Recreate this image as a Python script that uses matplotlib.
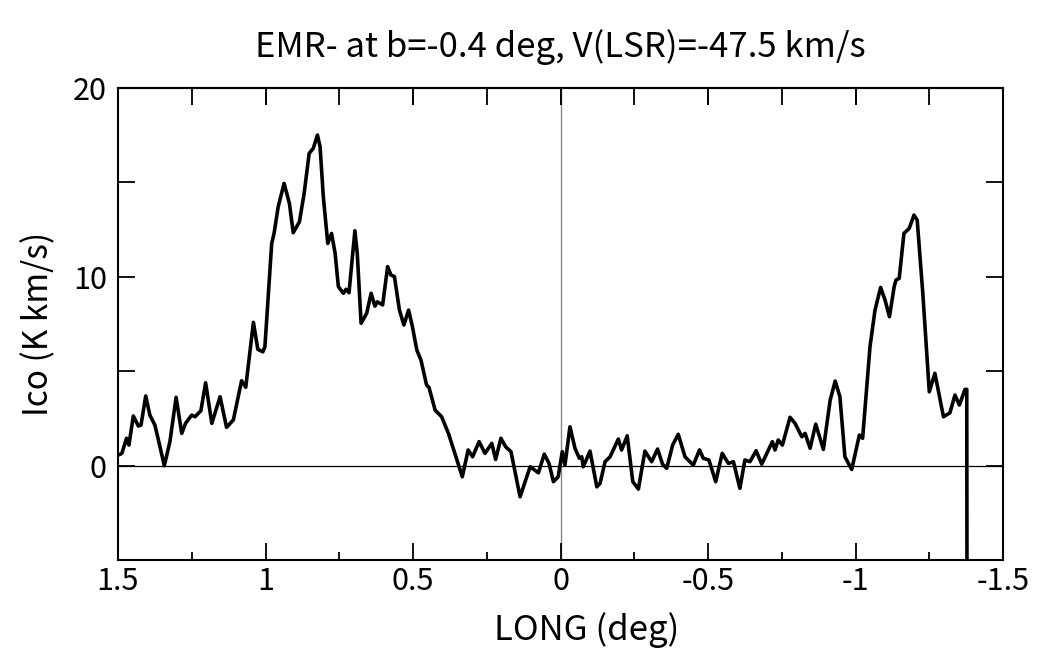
import matplotlib
matplotlib.use("Agg")
import matplotlib.pyplot as plt
from matplotlib.ticker import MultipleLocator, FuncFormatter

plt.rcParams['font.family'] = ['Noto Sans CJK JP', 'DejaVu Sans']
plt.rcParams['axes.unicode_minus'] = False

# galactic longitude (deg) and integrated intensity Ico (K km/s)
long_deg = [1.499, 1.487, 1.471, 1.463, 1.448, 1.431, 1.422, 1.406, 1.392, 1.375,
            1.363, 1.343, 1.324, 1.303, 1.284, 1.271, 1.250, 1.239, 1.219, 1.203,
            1.182, 1.154, 1.132, 1.109, 1.081, 1.067, 1.041, 1.026, 1.009, 1.002,
            0.979, 0.971, 0.957, 0.937, 0.919, 0.906, 0.885, 0.869, 0.852, 0.838,
            0.824, 0.815, 0.804, 0.789, 0.776, 0.764, 0.753, 0.736, 0.727, 0.717,
            0.697, 0.689, 0.676, 0.657, 0.642, 0.629, 0.621, 0.603, 0.586, 0.575,
            0.563, 0.546, 0.531, 0.515, 0.502, 0.487, 0.473, 0.454, 0.446, 0.425,
            0.403, 0.380, 0.360, 0.333, 0.313, 0.298, 0.276, 0.256, 0.233, 0.220,
            0.202, 0.186, 0.168, 0.137, 0.103, 0.075, 0.055, 0.039, 0.024, 0.008,
            -0.006, -0.015, -0.032, -0.049, -0.064, -0.072, -0.077, -0.100, -0.123, -0.134,
            -0.151, -0.168, -0.196, -0.207, -0.226, -0.245, -0.264, -0.286, -0.309, -0.329,
            -0.346, -0.360, -0.380, -0.399, -0.422, -0.450, -0.471, -0.484, -0.503, -0.526,
            -0.548, -0.569, -0.586, -0.608, -0.625, -0.642, -0.663, -0.682, -0.718, -0.727,
            -0.738, -0.752, -0.778, -0.795, -0.818, -0.829, -0.846, -0.865, -0.891, -0.914,
            -0.931, -0.947, -0.964, -0.987, -1.013, -1.024, -1.049, -1.066, -1.085, -1.100,
            -1.115, -1.131, -1.137, -1.148, -1.164, -1.182, -1.198, -1.209, -1.228, -1.250,
            -1.269, -1.298, -1.320, -1.337, -1.352, -1.371, -1.377, -1.378]
ico = [0.56, 0.65, 1.45, 1.09, 2.63, 2.10, 2.15, 3.69, 2.68, 2.15,
       1.36, 0.00, 1.27, 3.62, 1.71, 2.24, 2.68, 2.59, 2.91, 4.39,
       2.24, 3.65, 2.03, 2.42, 4.50, 4.15, 7.59, 6.16, 6.03, 6.30,
       11.77, 12.30, 13.71, 14.95, 13.89, 12.34, 12.92, 14.42, 16.54, 16.81,
       17.51, 16.89, 14.24, 11.77, 12.30, 11.24, 9.48, 9.13, 9.34, 9.16,
       12.44, 11.24, 7.54, 8.07, 9.13, 8.45, 8.68, 8.51, 10.54, 10.10,
       10.01, 8.24, 7.45, 8.24, 7.36, 6.12, 5.59, 4.27, 4.15, 2.94,
       2.59, 1.71, 0.74, -0.59, 0.83, 0.47, 1.27, 0.65, 1.18, 0.33,
       1.45, 1.00, 0.74, -1.65, -0.06, -0.38, 0.61, 0.12, -0.85, -0.59,
       0.74, 0.03, 2.06, 0.92, 0.39, 0.47, -0.06, 0.77, -1.12, -0.94,
       0.21, 0.47, 1.41, 0.83, 1.58, -0.85, -1.24, 0.77, 0.21, 0.88,
       0.07, -0.14, 1.09, 1.66, 0.47, 0.03, 0.83, 0.39, 0.30, -0.85,
       0.65, 0.12, 0.21, -1.20, 0.30, 0.21, 0.79, 0.08, 1.27, 0.83,
       1.36, 1.09, 2.56, 2.24, 1.53, 1.71, 0.92, 2.20, 0.86, 3.47,
       4.48, 3.65, 0.47, -0.20, 1.62, 1.45, 6.30, 8.24, 9.44, 8.77,
       7.89, 9.48, 9.83, 9.92, 12.30, 12.57, 13.27, 13.01, 9.13, 3.91,
       4.89, 2.59, 2.80, 3.74, 3.21, 4.04, 4.04, -10.0]

fig = plt.figure(figsize=(10.63, 6.62), dpi=100)
ax = fig.add_axes([0.111, 0.154, 0.8326, 0.713])

ax.axhline(0, color='black', lw=0.9, zorder=1)
ax.axvline(0, color='#888888', lw=1.0, zorder=1)
ax.plot(long_deg, ico, color='black', lw=2.6, zorder=3,
        solid_joinstyle='round', solid_capstyle='round')

ax.set_xlim(1.5, -1.5)
ax.set_ylim(-5, 20)

ax.xaxis.set_major_locator(MultipleLocator(0.5))
ax.xaxis.set_minor_locator(MultipleLocator(0.25))
ax.xaxis.set_major_formatter(FuncFormatter(lambda v, p: '0' if abs(v) < 1e-9 else ('%g' % v)))
ax.yaxis.set_major_locator(MultipleLocator(5))
ax.yaxis.set_major_formatter(FuncFormatter(lambda v, p: '%d' % v if round(v) % 10 == 0 else ''))

ax.tick_params(axis='x', which='major', direction='in', length=12, width=1.3,
               bottom=True, top=True, labelsize=22, pad=4)
ax.tick_params(axis='x', which='minor', direction='in', length=6, width=1.3,
               bottom=True, top=False)
ax.tick_params(axis='y', which='major', direction='in', length=12, width=1.3,
               left=True, right=True, labelsize=22, pad=8)

# top axis carries equal-length ticks every 0.25 deg
top = ax.secondary_xaxis('top')
top.xaxis.set_major_locator(MultipleLocator(0.25))
top.tick_params(direction='in', length=12, width=1.3, labelsize=0, labeltop=False)
top.spines['top'].set_linewidth(1.5)

for s in ax.spines.values():
    s.set_linewidth(1.5)

ax.set_title('EMR- at b=-0.4 deg, V(LSR)=-47.5 km/s', fontsize=25, pad=22)
ax.set_xlabel('LONG (deg)', fontsize=25, labelpad=8)
ax.xaxis.set_label_coords(0.53, -0.11)
ax.set_ylabel('Ico (K km/s)', fontsize=24, labelpad=12)

fig.savefig('out.png', dpi=100)
